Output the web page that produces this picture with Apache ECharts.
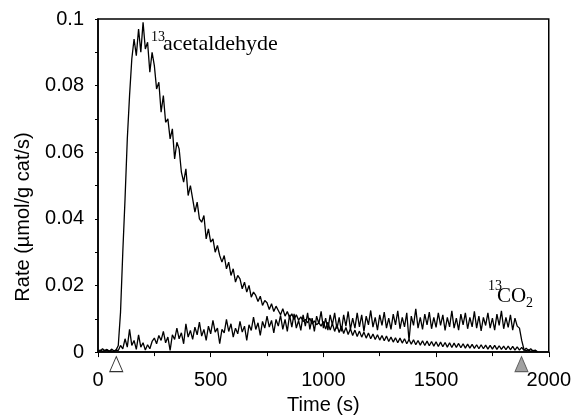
<!DOCTYPE html>
<html>
<head>
<meta charset="utf-8">
<script src="https://cdn.jsdelivr.net/npm/echarts@6/dist/echarts.min.js"></script>
<style>html,body{margin:0;padding:0;background:#fff}#c{width:574px;height:420px}</style>
</head>
<body>
<div id="c"></div>
<script>
// sampling grid (s)
var sampleStart = 0;
var sampleStep = 10;

// 13C acetaldehyde rate (umol/g cat/s), read every 10 s from t = 0
var acetaldehyde = [
0.0005,0.0003,0.0010,0.0004,0.0006,0.0002,0.0009,0.0004,0.0006,
0.002,0.012,0.030,0.046,0.064,0.077,0.088,0.094,0.089,0.097,0.090,
0.099,0.091,0.093,0.084,0.090,0.086,0.079,0.081,0.072,0.077,
0.069,0.070,0.064,0.067,0.058,0.063,0.061,0.054,0.051,0.055,
0.047,0.050,0.046,0.042,0.045,0.040,0.039,0.041,0.034,0.037,
0.033,0.034,0.030,0.032,0.029,0.027,0.029,0.025,0.027,0.023,
0.025,0.021,0.023,0.022,0.019,0.021,0.018,0.020,0.0165,0.018,
0.017,0.0152,0.0168,0.014,0.0155,0.0148,0.0128,0.0145,0.0122,0.0138,
0.0125,0.0112,0.013,0.0108,0.0122,0.0104,0.0115,0.0098,0.0112,0.0096,
0.0106,0.0092,0.0098,0.0088,0.0102,0.0084,0.0094,0.0082,0.0088,0.0078,
0.0092,
0.0069,0.009,0.0066,0.0086,0.0062,0.0082,0.0059,0.0078,0.0056,
0.0074,0.0053,0.007,0.005,0.0066,0.0047,0.0063,0.0045,0.006,0.0042,
0.0057,0.004,0.0054,0.0038,0.0052,0.0036,0.005,0.0034,0.0048,0.0032,
0.0045,0.003,0.0043,0.0028,0.0042,0.0027,0.004,0.0025,0.0038,0.0024,
0.0037,0.0022,0.0035,0.0021,0.0034,0.002,0.0033,0.0019,0.0032,0.0018,
0.0031,0.0017,0.003,0.0016,0.0029,0.0015,0.0028,0.0014,0.0027,0.0014,
0.0026,0.0013,0.0025,0.0012,0.0024,0.0012,0.0023,0.0011,0.0022,0.001,
0.0022,0.001,0.0021,0.0009,0.002,0.0009,0.002,0.0008,0.0019,0.0008,
0.0018,0.0007,0.0018,0.0007,0.0017,0.0006,0.0016,0.0006,0.0014,0.0005,
0.0012,0.0004,0.001,0.0003,0.0006,0.0001
];

// 13CO2 rate (umol/g cat/s), read every 10 s from t = 0
var co2 = [
0.0003,0.0006,0.0002,0.0005,0.0008,0.0003,0.0004,0.0002,0.0006,
0.0005,0.002,0.001,0.004,0.0015,0.0068,0.002,0.0035,0.0008,0.0052,0.0015,
0.0028,0.0006,0.0022,0.001,0.0032,0.0042,0.0025,0.005,0.0035,0.0062,
0.0028,0.0045,0.0005,0.0052,0.0038,0.0072,0.004,0.0058,0.0025,0.0085,
0.0045,0.0065,0.0038,0.0075,0.0052,0.009,0.0048,0.0068,0.0035,0.0078,
0.0055,0.0095,0.006,0.0072,0.0025,0.0068,0.0058,0.0098,0.0062,0.0085,
0.0045,0.0072,0.0055,0.0092,0.006,0.0078,0.0035,0.0082,0.0065,0.0105,
0.0068,0.0088,0.005,0.0092,0.0072,0.0108,0.0075,0.0095,0.0058,0.0098,
0.0078,0.011,0.0068,0.0098,0.0062,0.0112,0.0075,0.0115,0.0072,0.0095,
0.0065,0.0112,0.0078,0.0118,0.0068,0.0102,0.0062,0.0108,0.0085,0.0122,
0.0072,0.0102,0.0066,0.0112,0.0082,0.0118,0.007,0.0104,0.0062,0.0112,
0.0078,0.0122,0.0068,0.0102,0.0072,0.0118,0.0076,0.0112,0.0062,0.0108,
0.0082,0.0125,0.0075,0.0104,0.0066,0.0112,0.008,0.012,0.0072,0.0102,
0.0068,0.0114,0.0082,0.0124,0.007,0.0104,0.0076,0.0118,0.0035,0.0108,
0.008,0.013,0.0072,0.0104,0.0068,0.0114,0.0082,0.012,0.007,0.0104,
0.0074,0.0118,0.008,0.0112,0.0065,0.0104,0.0076,0.0124,0.0072,0.0102,
0.0066,0.0114,0.0082,0.0118,0.007,0.0104,0.0076,0.0122,0.0072,0.0108,
0.0064,0.0104,0.008,0.0118,0.0072,0.0102,0.0066,0.0114,0.008,0.0124,
0.007,0.0104,0.0074,0.0112,0.0066,0.0102,0.0078,0.0072,0.0035,0.0008,
0.0004,0.0007,0.0002,0.0005,0.0003,0.0001
];

// switch markers (s)
var startMarker = [81];
var endMarker = [1879];

var xTicks = [0, 500, 1000, 1500, 2000];
var yTicks = [0, 0.02, 0.04, 0.06, 0.08, 0.1];

function toPairs(arr) {
  var out = [];
  for (var i = 0; i < arr.length; i++) out.push([sampleStart + i * sampleStep, arr[i]]);
  return out;
}

var chart = echarts.init(document.getElementById('c'), null, {renderer: 'canvas'});
var axisFont = 'Liberation Sans, Arial, sans-serif';
var serif = 'Liberation Serif, Times New Roman, serif';

chart.setOption({
  animation: false,
  backgroundColor: '#fff',
  grid: {left: 98, right: 21, top: 19, bottom: 65, show: true, borderColor: '#000', borderWidth: 1.5, backgroundColor: 'transparent'},
  xAxis: {
    type: 'value', min: xTicks[0], max: xTicks[xTicks.length - 1], interval: 500,
    axisLine: {show: true, lineStyle: {color: '#000', width: 1.5}},
    axisTick: {show: true, inside: false, length: 5, lineStyle: {color: '#000'}},
    minorTick: {show: true, splitNumber: 2, length: 4, lineStyle: {color: '#000'}},
    splitLine: {show: false},
    axisLabel: {color: '#000', fontSize: 20, fontFamily: axisFont, margin: 18,
      formatter: function (v) { return String(v); }},
    name: 'Time (s)', nameLocation: 'middle', nameGap: 40,
    nameTextStyle: {color: '#000', fontSize: 20, fontFamily: axisFont}
  },
  yAxis: {
    type: 'value', min: yTicks[0], max: yTicks[yTicks.length - 1], interval: 0.02,
    axisLine: {show: true, lineStyle: {color: '#000', width: 1.5}},
    axisTick: {show: true, inside: false, length: 3, lineStyle: {color: '#000'}},
    minorTick: {show: true, splitNumber: 2, length: 3, lineStyle: {color: '#000'}},
    splitLine: {show: false},
    axisLabel: {color: '#000', fontSize: 20, fontFamily: axisFont, margin: 14,
      formatter: function (v) { return String(+v.toFixed(3)); }}
  },
  graphic: [
    {type: 'text', x: 23, y: 217, rotation: Math.PI / 2,
      style: {text: 'Rate (µmol/g cat/s)', fill: '#000', font: '20px ' + axisFont, align: 'center', verticalAlign: 'middle'}},
    {type: 'text', x: 151, y: 37, style: {text: '13', fill: '#000', font: '14px ' + serif, align: 'left', verticalAlign: 'middle'}},
    {type: 'text', x: 163, y: 44, style: {text: 'acetaldehyde', fill: '#000', font: '22px ' + serif, align: 'left', verticalAlign: 'middle'}},
    {type: 'text', x: 488, y: 286, style: {text: '13', fill: '#000', font: '14px ' + serif, align: 'left', verticalAlign: 'middle'}},
    {type: 'text', x: 497, y: 296, style: {text: 'CO', fill: '#000', font: '21px ' + serif, align: 'left', verticalAlign: 'middle'}},
    {type: 'text', x: 526, y: 303, style: {text: '2', fill: '#000', font: '14px ' + serif, align: 'left', verticalAlign: 'middle'}}
  ],
  series: [
    {type: 'line', data: toPairs(acetaldehyde), showSymbol: false, symbol: 'none',
      lineStyle: {color: '#000', width: 1.3}, z: 3},
    {type: 'line', data: toPairs(co2), showSymbol: false, symbol: 'none',
      lineStyle: {color: '#000', width: 1.3}, z: 3},
    {type: 'scatter', clip: false, data: startMarker.map(function (t) { return [t, 0]; }),
      symbol: 'triangle', symbolSize: [13, 15], symbolOffset: [0, 12],
      itemStyle: {color: '#fff', borderColor: '#000', borderWidth: 1}, z: 5},
    {type: 'scatter', clip: false, data: endMarker.map(function (t) { return [t, 0]; }),
      symbol: 'triangle', symbolSize: [13, 15], symbolOffset: [0, 12],
      itemStyle: {color: '#8a8a8a', borderColor: '#444', borderWidth: 1}, z: 5}
  ]
});
</script>
</body>
</html>
